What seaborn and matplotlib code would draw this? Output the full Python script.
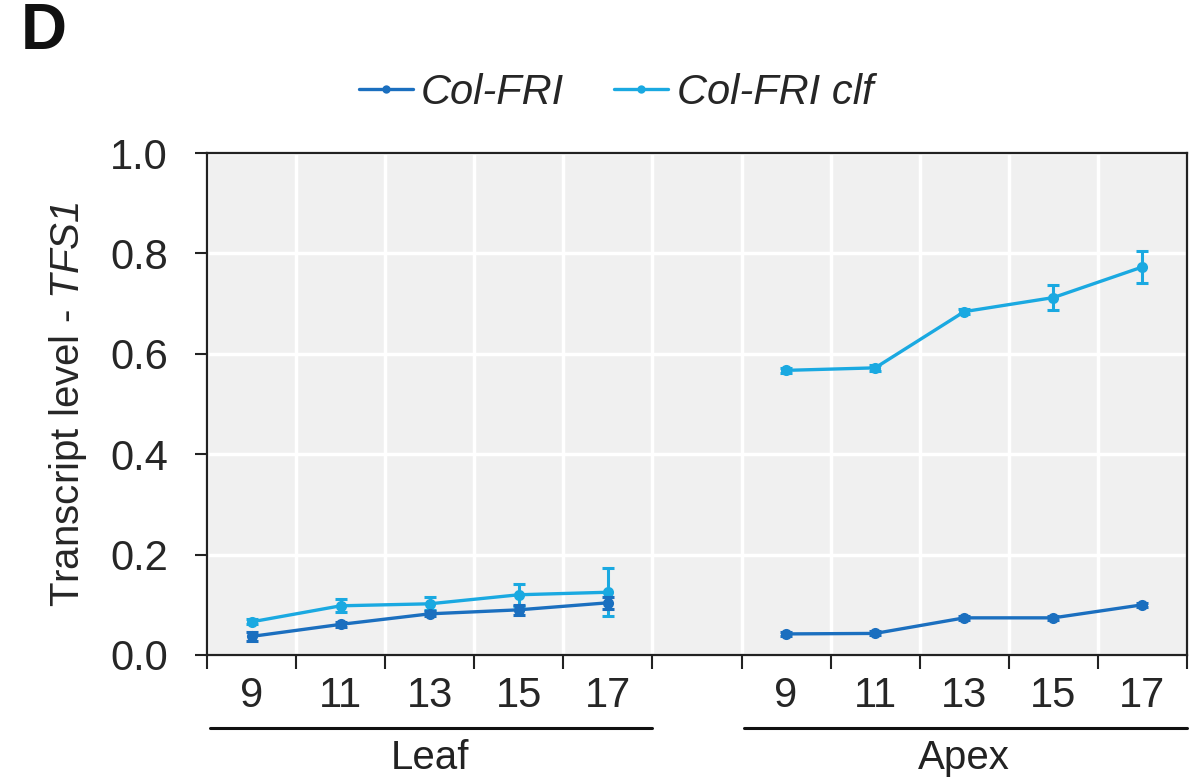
import matplotlib
matplotlib.use("Agg")
import matplotlib.pyplot as plt
import seaborn as sns
import pandas as pd
import numpy as np
from matplotlib.lines import Line2D

# ---- data ----
tissues = ["Leaf", "Apex"]
days = ["9", "11", "13", "15", "17"]
genotypes = ["Col-FRI", "Col-FRI clf"]

leaf_colfri = [0.037, 0.061, 0.082, 0.090, 0.104]
leaf_colfri_err = [0.009, 0.005, 0.005, 0.010, 0.012]
leaf_clf = [0.066, 0.098, 0.102, 0.120, 0.125]
leaf_clf_err = [0.005, 0.013, 0.013, 0.022, 0.048]
apex_colfri = [0.042, 0.043, 0.074, 0.074, 0.100]
apex_colfri_err = [0.004, 0.004, 0.004, 0.004, 0.004]
apex_clf = [0.567, 0.572, 0.684, 0.712, 0.773]
apex_clf_err = [0.005, 0.006, 0.005, 0.025, 0.031]

colors = {"Col-FRI": "#1b6fbf", "Col-FRI clf": "#1aa9e1"}

rows = []
series = {
    ("Leaf", "Col-FRI"): (leaf_colfri, leaf_colfri_err),
    ("Leaf", "Col-FRI clf"): (leaf_clf, leaf_clf_err),
    ("Apex", "Col-FRI"): (apex_colfri, apex_colfri_err),
    ("Apex", "Col-FRI clf"): (apex_clf, apex_clf_err),
}
offset = {"Leaf": 0, "Apex": 6}
for (t, g), (vals, errs) in series.items():
    for i, (d, v, e) in enumerate(zip(days, vals, errs)):
        rows.append(dict(tissue=t, genotype=g, day=d, pos=offset[t] + i, value=v, err=e))
df = pd.DataFrame(rows)

# ---- style ----
sns.set_theme(style="ticks")
plt.rcParams["font.family"] = ["Liberation Sans", "DejaVu Sans"]
plt.rcParams["mathtext.fontset"] = "custom"
plt.rcParams["mathtext.rm"] = "Liberation Sans:italic"
plt.rcParams["mathtext.it"] = "Liberation Sans:italic"

fig = plt.figure(figsize=(12.02, 7.82), dpi=100)
ax = fig.add_axes([207 / 1202, 1 - 655 / 782, (1187 - 207) / 1202, (655 - 153) / 782])
ax.set_facecolor("#f0f0f0")

# draw clf first, Col-FRI on top
for g in ["Col-FRI clf", "Col-FRI"]:
    for t in tissues:
        sub = df[(df.tissue == t) & (df.genotype == g)]
        sns.lineplot(data=sub, x="pos", y="value", color=colors[g], marker="o",
                     markersize=8, markeredgewidth=0, linewidth=2.4, ax=ax,
                     legend=False, zorder=3)
        ax.errorbar(sub["pos"], sub["value"], yerr=sub["err"], fmt="none",
                    ecolor=colors[g], elinewidth=2.2, capsize=4, capthick=2.2, zorder=3)

ax.set_xlim(-0.5, 10.5)
ax.set_ylim(0, 1.0)

# major ticks at slot boundaries (no labels), minor at centers (labels)
ax.set_xticks(np.arange(-0.5, 10.6, 1.0))
ax.set_xticklabels([])
centers = list(df[df.genotype == "Col-FRI"]["pos"])
ax.set_xticks(centers, minor=True)
ax.set_xticklabels(list(df[df.genotype == "Col-FRI"]["day"]), minor=True)
ax.tick_params(axis="x", which="major", direction="out", length=10, width=1.5, color="#222222")
ax.tick_params(axis="x", which="minor", length=0, pad=15, labelsize=30)
ax.set_yticks([0, 0.2, 0.4, 0.6, 0.8, 1.0])
ax.set_yticklabels(["0.0", "0.2", "0.4", "0.6", "0.8", "1.0"])
ax.tick_params(axis="y", direction="out", length=9, width=1.5, color="#222222", labelsize=30, pad=19)

ax.grid(True, which="major", color="white", linewidth=2.5)
ax.set_axisbelow(True)
for s in ax.spines.values():
    s.set_linewidth(1.6)
    s.set_color("#222222")

ax.set_xlabel("")
ax.set_ylabel("Transcript level - $TFS1$", fontsize=29, labelpad=15)

# group lines and labels
tr = ax.get_xaxis_transform()
for t, (x0, x1) in zip(tissues, [(-0.5, 4.5), (5.5, 10.5)]):
    ax.add_line(Line2D([x0 + 0.03, x1], [-0.145, -0.145], transform=tr, color="#111111",
                       linewidth=2.2, clip_on=False))
    ax.text((x0 + x1) / 2, -0.205, t, transform=tr, ha="center", va="center",
            fontsize=29, color="#222222")

# legend
handles = [Line2D([], [], color=colors[g], marker="o", markersize=6, markeredgewidth=0,
                  linewidth=2.4) for g in genotypes]
fig.legend(handles, genotypes, loc="center", bbox_to_anchor=(616 / 1202, 1 - 93 / 782),
           ncol=2, frameon=False, handlelength=1.3, handletextpad=0.2, columnspacing=1.2,
           prop={"style": "italic", "size": 30})

fig.text(21 / 1202, 1 - 32 / 782, "D", fontsize=46, fontweight="bold", ha="left", va="center",
         color="#111111")

fig.savefig("out.png", dpi=100)
